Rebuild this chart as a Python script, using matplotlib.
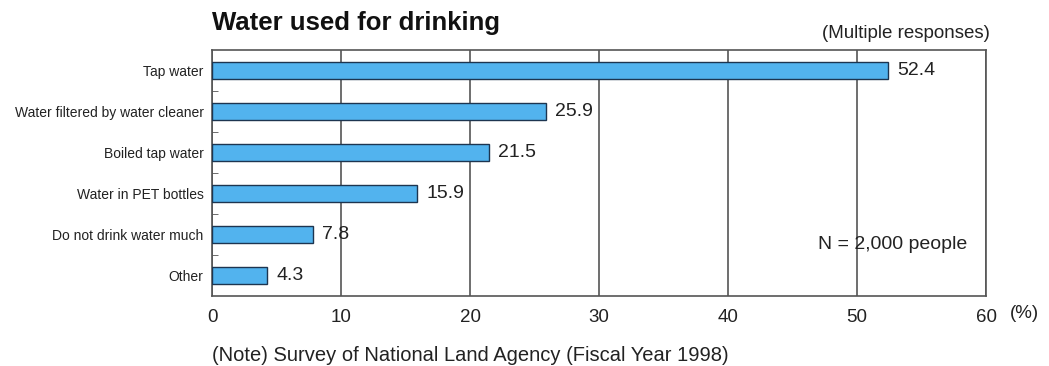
import matplotlib.pyplot as plt
import numpy as np

plt.rcParams['font.family'] = ['Liberation Sans', 'DejaVu Sans']

# -------------------- DATA --------------------
categories = ["Tap water", "Water filtered by water cleaner", "Boiled tap water",
              "Water in PET bottles", "Do not drink water much", "Other"]
values = [52.4, 25.9, 21.5, 15.9, 7.8, 4.3]
x_ticks = [0, 10, 20, 30, 40, 50, 60]

# -------------------- FIGURE --------------------
fig = plt.figure(figsize=(10.49, 3.66), dpi=100)
ax = fig.add_axes([0.2021, 0.191, 0.738, 0.672])

y = np.arange(len(categories))
ax.barh(y, values, height=0.42, color="#52b3ee", edgecolor="#1d3550", linewidth=1.0, zorder=3)

for yi, v in zip(y, values):
    ax.text(v + 0.7, yi, f"{v}", va="center", ha="left", fontsize=14, color="#222222")

ax.set_xlim(0, 60)
ax.set_ylim(len(categories) - 0.5, -0.5)
ax.set_xticks(x_ticks)
ax.set_xticklabels([str(t) for t in x_ticks], fontsize=13.5, color="#222222")
ax.set_yticks(y)
ax.set_yticklabels(categories, fontsize=10, color="#222222")
ax.tick_params(axis="both", length=0, pad=6)
ax.tick_params(axis="x", pad=9)

# small dashes between categories on the left edge
ax.set_yticks(np.arange(0.5, len(categories) - 0.5, 1), minor=True)
ax.tick_params(axis="y", which="minor", direction="in", length=4, color="#555555")

ax.grid(axis="x", color="#555555", linewidth=1.2, zorder=0)
for s in ax.spines.values():
    s.set_color("#555555")
    s.set_linewidth(1.2)

ax.text(1.03, -0.07, "(%)", transform=ax.transAxes, fontsize=13.5,
        ha="left", va="center", color="#222222")
ax.text(0.0, 1.06, "Water used for drinking", transform=ax.transAxes, fontsize=18.5,
        fontweight="bold", ha="left", va="bottom", color="#111111")
ax.text(1.005, 1.035, "(Multiple responses)", transform=ax.transAxes, fontsize=13.5,
        ha="right", va="bottom", color="#222222")
ax.text(0.975, 0.208, "N = 2,000 people", transform=ax.transAxes, fontsize=14,
        ha="right", va="center", color="#222222")
fig.text(0.2021, 0.03, "(Note) Survey of National Land Agency (Fiscal Year 1998)",
         fontsize=14.5, ha="left", va="center", color="#222222")

fig.savefig("out.png", dpi=100, facecolor="white")
